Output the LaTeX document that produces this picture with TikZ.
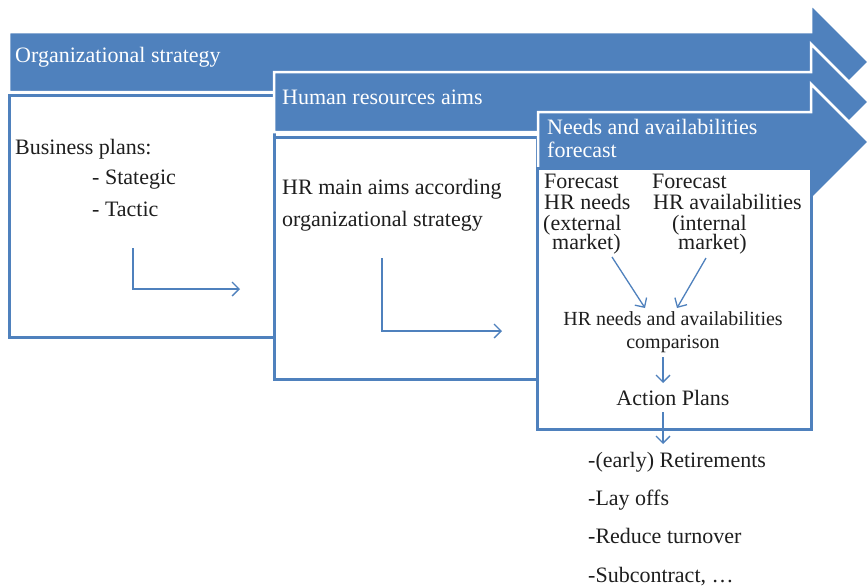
\documentclass[tikz,border=0pt]{standalone}
\usepackage{fontspec}
\setmainfont{Liberation Serif}
\usetikzlibrary{arrows.meta}
\definecolor{hrblue}{HTML}{4F81BD}
\definecolor{ink}{HTML}{1E1E1E}
\tikzset{
  banner/.style={fill=hrblue, draw=white, line width=2.5pt, line join=miter},
  panel/.style={fill=white, draw=hrblue, line width=3pt},
  flow/.style={draw=hrblue, line width=1.3pt, -{Straight Barb[length=7pt,width=14pt]}},
  headtxt/.style={text=white, anchor=base west, inner sep=0pt, font=\fontsize{22}{24}\selectfont},
  bodytxt/.style={text=ink, anchor=base west, inner sep=0pt, font=\fontsize{22}{24}\selectfont},
  midtxt/.style={text=ink, anchor=base, inner sep=0pt, font=\fontsize{22}{24}\selectfont},
  smalltxt/.style={text=ink, anchor=base, inner sep=0pt, font=\fontsize{20}{22}\selectfont},
}
\begin{document}
\begin{tikzpicture}[x=1pt,y=-1pt]
\useasboundingbox (0,0) rectangle (867,587);
\clip (0,0) rectangle (867,587);

% ---- level 1: organizational strategy
\path[banner] (9,32) -- (811,32) -- (811,4) -- (869,62) -- (811,120) -- (811,92) -- (9,92) -- cycle;
\node[headtxt] (orgstrat) at (15,62) {Organizational strategy};
\path[panel] (9,95) rectangle (274,337);
\node[bodytxt] (bplans) at (15,154) {Business plans:};
\node[bodytxt] (strat) at (92,184) {- Stategic};
\node[bodytxt] (tact) at (92,216) {- Tactic};
\coordinate (bpA) at (133,248);
\coordinate (bpB) at (240,289);
\draw[flow] (bpA) |- (bpB);

% ---- level 2: human resources aims
\path[banner] (274,72) -- (811,72) -- (811,44) -- (869,102) -- (811,160) -- (811,132) -- (274,132) -- cycle;
\node[headtxt] (hraims) at (282,104) {Human resources aims};
\path[panel] (274,137) rectangle (537,379);
\node[bodytxt] (aimsA) at (282,194) {HR main aims according};
\node[bodytxt] (aimsB) at (282,226) {organizational strategy};
\coordinate (haA) at (382,258);
\coordinate (haB) at (502,331);
\draw[flow] (haA) |- (haB);

% ---- level 3: needs and availabilities forecast
\path[banner] (538,112) -- (811,112) -- (811,84) -- (869,142) -- (811,200) -- (811,172) -- (538,172) -- cycle;
\node[headtxt] (nafA) at (547,134) {Needs and availabilities};
\node[headtxt] (nafB) at (547,157) {forecast};
\path[panel] (537,168) rectangle (811,429);

\node[bodytxt] (fnA) at (544,188) {Forecast};
\node[bodytxt] (fnB) at (544,209) {HR needs};
\node[bodytxt] (fnC) at (543,230) {(external};
\node[bodytxt] (fnD) at (552,249) {market)};

\node[bodytxt] (faA) at (652,188) {Forecast};
\node[bodytxt] (faB) at (653,209) {HR availabilities};
\node[bodytxt] (faC) at (672,230) {(internal};
\node[bodytxt] (faD) at (678,249) {market)};

\node[smalltxt] (cmpA) at (673,325) {HR needs and availabilities};
\node[smalltxt] (cmpB) at (673,348) {comparison};
\node[midtxt] (plans) at (673,405) {Action Plans};

\coordinate (fnOut) at (612,257);
\coordinate (faOut) at (706,258);
\coordinate (cmpInL) at (645,308);
\coordinate (cmpInR) at (677,308);
\coordinate (cmpOut) at (663,357);
\coordinate (plIn) at (663,383);
\coordinate (plOut) at (663,412);
\coordinate (lstIn) at (663,444);
\draw[flow] (fnOut) -- (cmpInL);
\draw[flow] (faOut) -- (cmpInR);
\draw[flow] (cmpOut) -- (plIn);
\draw[flow] (plOut) -- (lstIn);

% ---- action list
\node[bodytxt] (actA) at (588,467) {-(early) Retirements};
\node[bodytxt] (actB) at (588,505) {-Lay offs};
\node[bodytxt] (actC) at (588,543) {-Reduce turnover};
\node[bodytxt] (actD) at (588,582) {-Subcontract, …};
\end{tikzpicture}
\end{document}
